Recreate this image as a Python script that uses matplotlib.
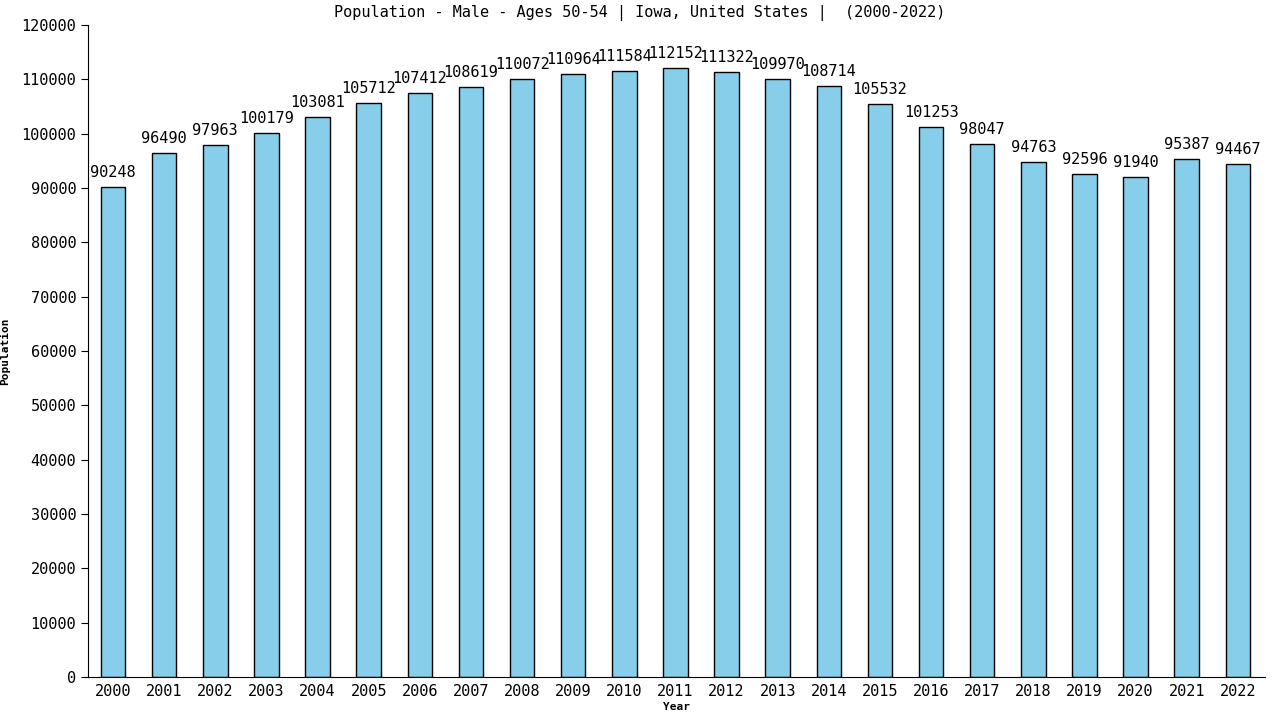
import matplotlib.pyplot as plt
plt.switch_backend('agg')

years = [str(y) for y in range(2000, 2023)]
population = [90248, 96490, 97963, 100179, 103081, 105712, 107412, 108619,
              110072, 110964, 111584, 112152, 111322, 109970, 108714, 105532,
              101253, 98047, 94763, 92596, 91940, 95387, 94467]
yticks = list(range(0, 120001, 10000))

plt.rcParams['font.family'] = 'DejaVu Sans Mono'

fig = plt.figure(figsize=(12.8, 7.2), dpi=100)
ax = fig.add_axes([0.06875, 0.0597, 0.9195, 0.9056])

x = range(len(years))
ax.bar(x, population, width=0.48, color='#87ceeb', edgecolor='black', linewidth=1)
for i, v in zip(x, population):
    ax.text(i, v + 1300, str(v), ha='center', va='bottom', fontsize=11)

ax.set_xlim(-0.49, len(years) - 0.47)
ax.set_ylim(0, 120000)
ax.set_xticks(list(x))
ax.set_xticklabels(years, fontsize=11)
ax.set_yticks(yticks)
ax.set_yticklabels([str(t) for t in yticks], fontsize=11)
ax.tick_params(axis='x', length=0, pad=5)
ax.tick_params(axis='y', length=5)
ax.spines['top'].set_visible(False)
ax.spines['right'].set_visible(False)

ax.set_xlabel('Year', fontsize=8, fontweight='bold', labelpad=2)
ax.set_ylabel('Population', fontsize=8, fontweight='bold', labelpad=8)
fig.text(0.5, 0.982, 'Population - Male - Ages 50-54 | Iowa, United States |  (2000-2022)',
         ha='center', va='center', fontsize=11)

plt.savefig('out.png')
